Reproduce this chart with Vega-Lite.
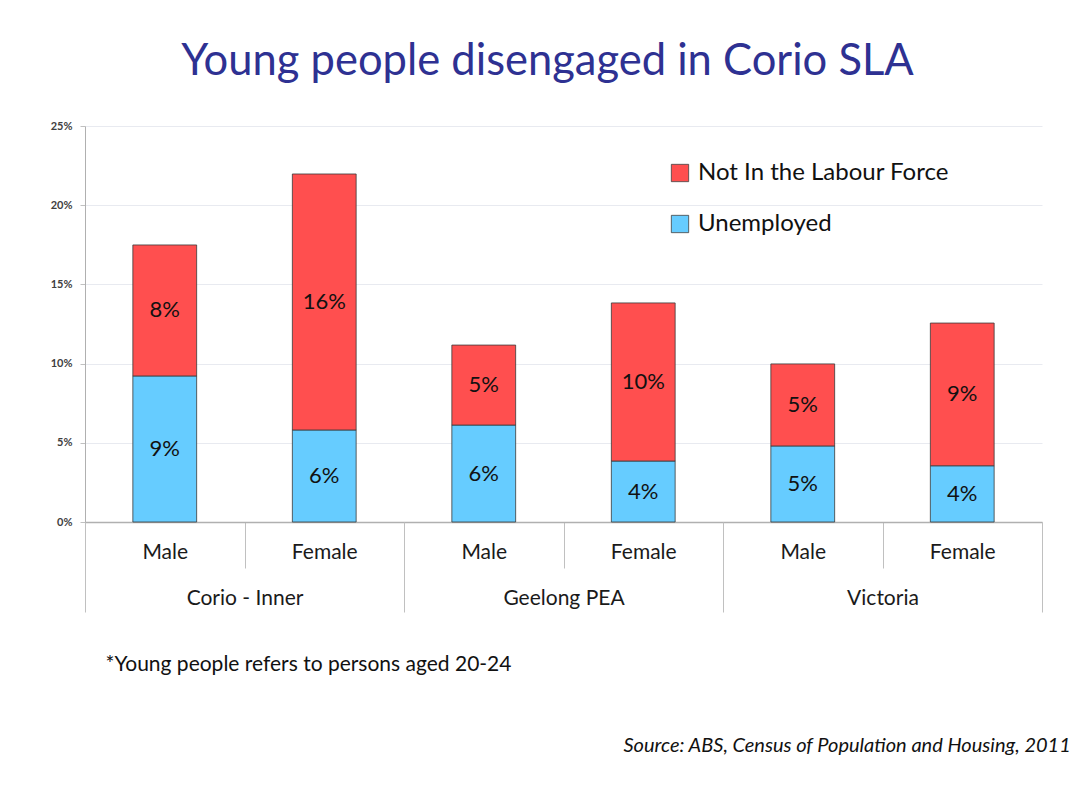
{
  "$schema": "https://vega.github.io/schema/vega-lite/v6.json",
  "autosize": "none",
  "width": 957,
  "height": 396,
  "padding": {"left": 85, "top": 126, "right": 30, "bottom": 288},
  "background": "white",
  "config": {
    "font": "Lato",
    "view": {"stroke": null}
  },
  "title": {
    "text": "Young people disengaged in Corio SLA",
    "fontSize": 43.5,
    "font": "Lato",
    "fontWeight": "normal",
    "color": "#2E3192",
    "anchor": "middle",
    "dx": -16,
    "offset": 36
  },
  "data": {
    "values": [
      {"region": "Corio - Inner", "gender": "Male", "key": "Corio - Inner|Male", "series": "Unemployed", "value": 0.0922},
      {"region": "Corio - Inner", "gender": "Male", "key": "Corio - Inner|Male", "series": "Not In the Labour Force", "value": 0.0827},
      {"region": "Corio - Inner", "gender": "Female", "key": "Corio - Inner|Female", "series": "Unemployed", "value": 0.0581},
      {"region": "Corio - Inner", "gender": "Female", "key": "Corio - Inner|Female", "series": "Not In the Labour Force", "value": 0.1616},
      {"region": "Geelong PEA", "gender": "Male", "key": "Geelong PEA|Male", "series": "Unemployed", "value": 0.0612},
      {"region": "Geelong PEA", "gender": "Male", "key": "Geelong PEA|Male", "series": "Not In the Labour Force", "value": 0.0505},
      {"region": "Geelong PEA", "gender": "Female", "key": "Geelong PEA|Female", "series": "Unemployed", "value": 0.0385},
      {"region": "Geelong PEA", "gender": "Female", "key": "Geelong PEA|Female", "series": "Not In the Labour Force", "value": 0.0998},
      {"region": "Victoria", "gender": "Male", "key": "Victoria|Male", "series": "Unemployed", "value": 0.048},
      {"region": "Victoria", "gender": "Male", "key": "Victoria|Male", "series": "Not In the Labour Force", "value": 0.0518},
      {"region": "Victoria", "gender": "Female", "key": "Victoria|Female", "series": "Unemployed", "value": 0.0355},
      {"region": "Victoria", "gender": "Female", "key": "Victoria|Female", "series": "Not In the Labour Force", "value": 0.0901}
    ]
  },
  "resolve": {"scale": {"x": "independent"}, "axis": {"x": "independent"}},
  "layer": [
    {
      "layer": [
        {
          "mark": {"type": "bar", "width": {"band": 0.4}, "stroke": "#3A3A3A", "strokeWidth": 0.8},
          "encoding": {
            "x": {
              "field": "key",
              "type": "nominal",
              "sort": null,
              "scale": {"paddingInner": 0, "paddingOuter": 0},
              "axis": {
                "title": "*Young people refers to persons aged 20-24",
                "titleFontSize": 21,
                "titleFontWeight": "normal",
                "titleColor": "#111111",
                "titleAnchor": "start",
                "titleAlign": "left",
                "titleBaseline": "middle",
                "titleX": 20,
                "titleY": 142,
                "labelExpr": "split(datum.label, '|')[1]",
                "labelAngle": 0,
                "labelFontSize": 21,
                "labelColor": "#1a1a1a",
                "labelPadding": -27,
                "labelBaseline": "top",
                "tickBand": "extent",
                "tickSize": 46,
                "tickColor": "#C0C0C0",
                "domainColor": "#B0B0B0",
                "domainWidth": 1.5
              }
            },
            "y": {
              "field": "value",
              "type": "quantitative",
              "stack": "zero",
              "scale": {"domain": [0, 0.25], "nice": false},
              "axis": {
                "title": null,
                "values": [0, 0.05, 0.1, 0.15, 0.2, 0.25],
                "format": ".0%",
                "labelFontSize": 11,
                "labelFontWeight": "bold",
                "labelColor": "#404040",
                "labelPadding": 8,
                "tickSize": 5,
                "tickColor": "#C0C0C0",
                "domainColor": "#B0B0B0",
                "gridColor": "#E8EAF0",
                "gridWidth": 1
              }
            },
            "color": {
              "field": "series",
              "type": "nominal",
              "scale": {"domain": ["Not In the Labour Force", "Unemployed"], "range": ["#FF4F4F", "#66CCFF"]},
              "legend": {
                "title": null,
                "orient": "none",
                "legendX": 583,
                "legendY": 35,
                "symbolType": "square",
                "symbolSize": 300,
                "symbolStrokeColor": "#404040",
                "symbolStrokeWidth": 0.8,
                "labelFontSize": 24,
                "labelLimit": 500,
                "labelColor": "#111111",
                "rowPadding": 27,
                "labelOffset": 6
              }
            },
            "order": {"field": "series", "sort": "descending"}
          }
        },
        {
          "mark": {"type": "text", "fontSize": 22, "color": "#111111"},
          "encoding": {
            "x": {"field": "key", "type": "nominal", "sort": null},
            "y": {"field": "value", "type": "quantitative", "stack": "zero", "bandPosition": 0.5},
            "text": {"field": "value", "type": "quantitative", "format": ".0%"},
            "order": {"field": "series", "sort": "descending"},
            "detail": {"field": "series"}
          }
        }
      ]
    },
    {
      "mark": {"type": "text", "text": ""},
      "encoding": {
        "x": {
          "field": "region",
          "type": "nominal",
          "sort": null,
          "scale": {"paddingInner": 0, "paddingOuter": 0},
          "axis": {
            "orient": "bottom",
            "title": "Source: ABS, Census of Population and Housing, 2011",
            "titleFontSize": 20,
            "titleFontStyle": "italic",
            "titleFontWeight": "normal",
            "titleColor": "#111111",
            "titleAnchor": "start",
            "titleAlign": "left",
            "titleBaseline": "middle",
            "titleX": 538,
            "titleY": 223,
            "labelAngle": 0,
            "labelFontSize": 21,
            "labelColor": "#1a1a1a",
            "labelPadding": -25,
            "labelBaseline": "top",
            "tickBand": "extent",
            "tickSize": 90,
            "tickColor": "#C0C0C0",
            "domain": false
          }
        }
      }
    }
  ]
}
